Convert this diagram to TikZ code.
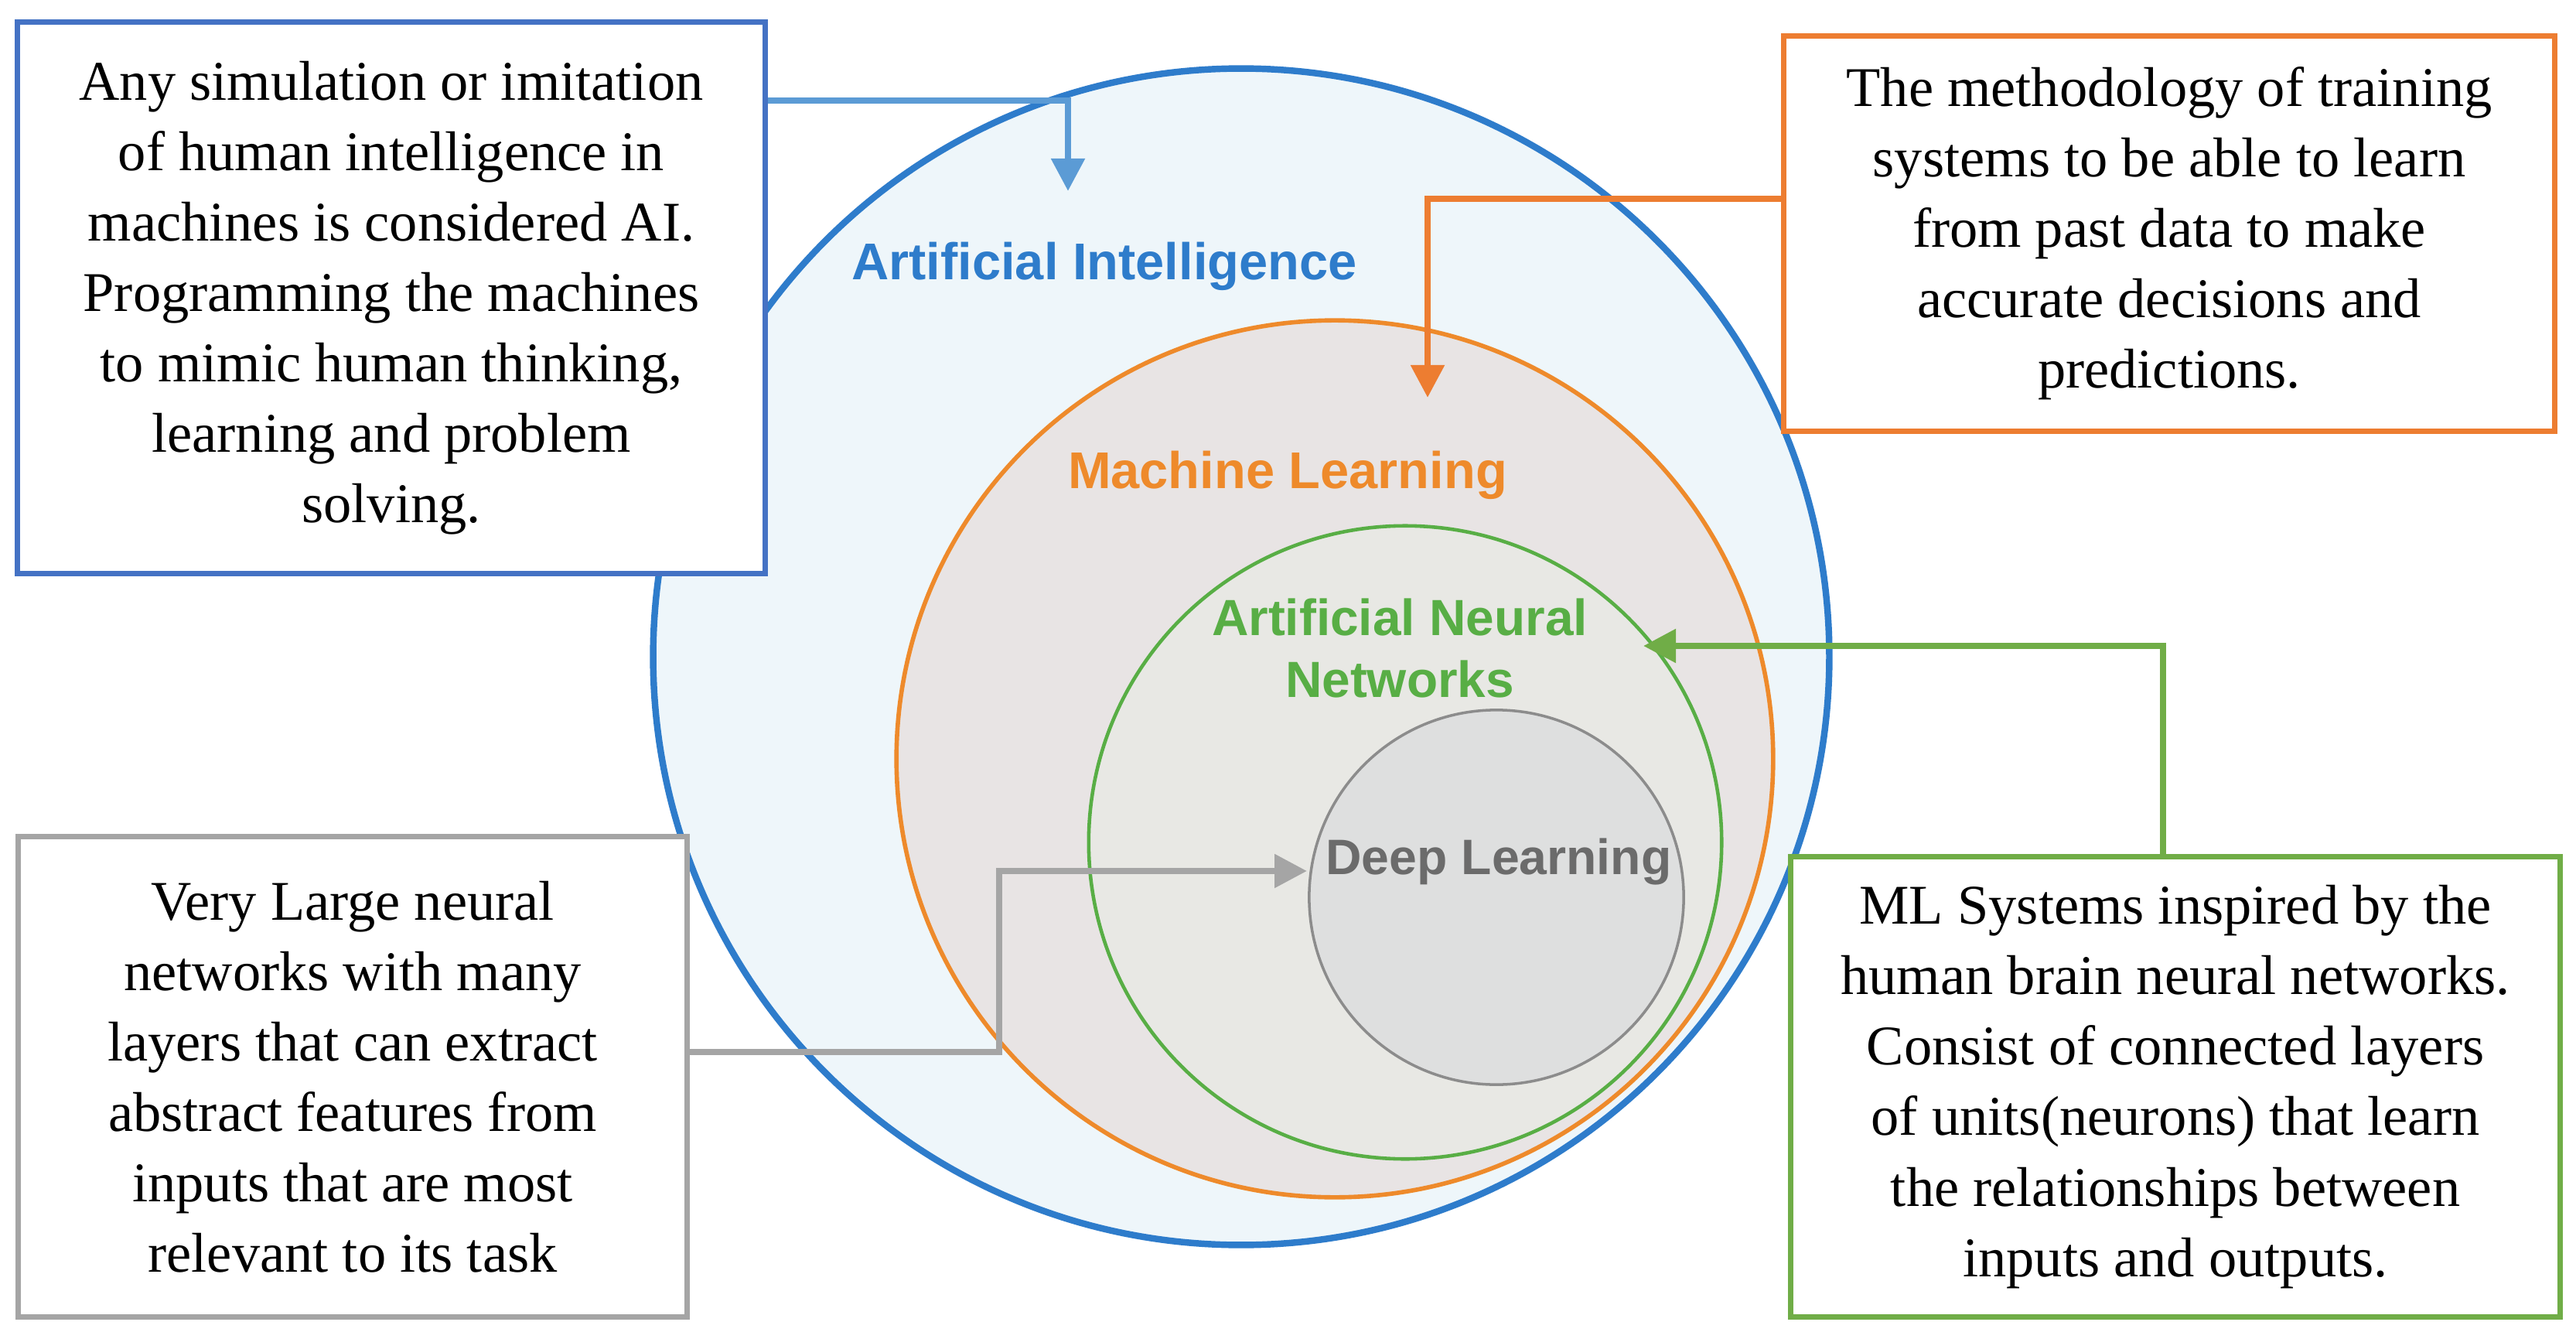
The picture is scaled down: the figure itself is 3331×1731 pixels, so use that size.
\documentclass[tikz,border=0pt]{standalone}
\usepackage{fontspec}
\setmainfont{Liberation Serif}
\newfontfamily\labelsans{Liberation Sans}
\usepackage{tikz}
\usetikzlibrary{arrows.meta}
\definecolor{aiblue}{HTML}{2E7CCB}
\definecolor{aifill}{HTML}{EEF6FA}
\definecolor{boxblue}{HTML}{4472C4}
\definecolor{arrblue}{HTML}{5B9BD5}
\definecolor{mlorange}{HTML}{EE8A2B}
\definecolor{mlfill}{HTML}{E8E4E4}
\definecolor{boxorange}{HTML}{ED7D31}
\definecolor{anngreen}{HTML}{58AE45}
\definecolor{annfill}{HTML}{E8E8E4}
\definecolor{boxgreen}{HTML}{70AD47}
\definecolor{dlgray}{HTML}{8C8C8C}
\definecolor{dlfill}{HTML}{DEDFDF}
\definecolor{dltext}{HTML}{6B6B6B}
\definecolor{boxgray}{HTML}{A5A5A5}

\begin{document}
\begin{tikzpicture}[x=0.01cm,y=-0.01cm,
  ring/.style={circle,inner sep=0pt},
  lbl/.style={font=\labelsans\bfseries\fontsize{#1}{22.8}\selectfont,
              align=center,inner sep=0pt},
  lbl/.default=19,
  infobox/.style={draw,line width=2pt,fill=white,align=center,inner sep=0pt,
                  font=\fontsize{20.6}{25.9}\selectfont},
  pointer/.style={line width=2.4pt,-{Triangle[length=4.2mm,width=4.2mm]}}
]
\fill[white] (0,0) rectangle (3331,1731);
\useasboundingbox (0,0) rectangle (3331,1731);

% nested fields
\node[ring,draw=aiblue,fill=aifill,line width=2.4pt,minimum size=15.2cm] (ai) at (1605,849) {};
\node[ring,draw=mlorange,fill=mlfill,line width=1.6pt,minimum size=11.33cm] (ml) at (1726,981) {};
\node[ring,draw=anngreen,fill=annfill,line width=1.3pt,minimum size=8.18cm] (ann) at (1817,1089) {};
\node[ring,draw=dlgray,fill=dlfill,line width=1pt,minimum size=4.84cm] (dl) at (1935,1160) {};

\node[lbl,text=aiblue,anchor=base] (ailbl) at (1428,362) {Artificial Intelligence};
\node[lbl,text=mlorange,anchor=base] (mllbl) at (1665,632) {Machine Learning};
\node[lbl=18.7,text=anngreen] (annlbl) at (1810,838) {Artificial Neural\\Networks};
\node[lbl=18.3,text=dltext,anchor=base] (dllbl) at (1938,1130) {Deep Learning};

% explanations
\node[infobox,draw=boxblue,minimum width=9.67cm,minimum height=7.13cm] (aibox) at (506,385)
  {Any simulation or imitation\\of human intelligence in\\machines is considered AI.\\Programming the machines\\to mimic human thinking,\\learning and problem\\solving.};
\node[infobox,draw=boxorange,minimum width=9.96cm,minimum height=5.10cm] (mlbox) at (2805,302)
  {The methodology of training\\systems to be able to learn\\from past data to make\\accurate decisions and\\predictions.};
\node[infobox,draw=boxgreen,minimum width=9.94cm,minimum height=5.95cm] (annbox) at (2813,1405)
  {ML Systems inspired by the\\human brain neural networks.\\Consist of connected layers\\of units(neurons) that learn\\the relationships between\\inputs and outputs.};
\node[infobox,draw=boxgray,minimum width=8.65cm,minimum height=6.21cm] (dlbox) at (456,1392)
  {Very Large neural\\networks with many\\layers that can extract\\abstract features from\\inputs that are most\\relevant to its task};

% pointers
\coordinate (aibend) at (1381,130);
\coordinate (aitip) at (1381,247);
\draw[pointer,arrblue] (aibox.east |- aibend) -- (aibend) -- (aitip);

\coordinate (mlbend) at (1846,257);
\coordinate (mltip) at (1846,514);
\draw[pointer,boxorange] (mlbox.west |- mlbend) -- (mlbend) -- (mltip);

\coordinate (annbend) at (2797,835);
\coordinate (anntip) at (2125,835);
\draw[pointer,boxgreen] (annbox.north -| annbend) -- (annbend) -- (anntip);

\coordinate (dlbend) at (1292,1360);
\coordinate (dltip) at (1690,1126);
\draw[pointer,boxgray] (dlbox.east |- dlbend) -- (dlbend) |- (dltip);
\end{tikzpicture}
\end{document}
